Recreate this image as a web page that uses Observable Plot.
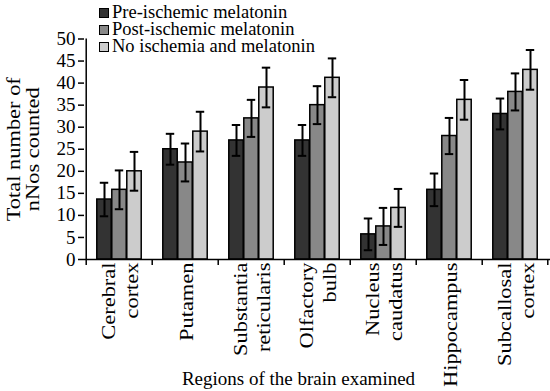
<!DOCTYPE html>
<html><head><meta charset="utf-8">
<script src="https://cdn.jsdelivr.net/npm/d3@7"></script>
<script src="https://cdn.jsdelivr.net/npm/@observablehq/plot@0.6"></script>
<style>
body{margin:0;background:#fff;font-family:"Liberation Serif","Times New Roman",serif;}
#wrap{position:relative;width:550px;height:391px;}
#legend{position:absolute;left:99px;top:4px;font-size:18.5px;line-height:17px;color:#000;}
.item{display:flex;align-items:center;white-space:nowrap;height:17px;}
.sw{width:8px;height:8px;border:1.5px solid #000;margin-right:3px;}
</style></head><body>
<div id="wrap"><div id="chart"></div><div id="legend"></div></div>
<script>
const regions = ["Cerebral\ncortex","Putamen","Substantia\nreticularis","Olfactory\nbulb","Nucleus\ncaudatus","Hippocampus","Subcallosal\ncortex"];
const series = ["Pre-ischemic melatonin","Post-ischemic melatonin","No ischemia and melatonin"];
const preMean  = [13.6, 25.0, 27.0, 27.0, 5.7, 15.8, 33.0];
const preErr   = [3.8, 3.5, 3.5, 3.5, 3.6, 3.7, 3.5];
const postMean = [15.8, 22.0, 32.0, 35.0, 7.5, 28.0, 38.0];
const postErr  = [4.4, 4.3, 4.2, 4.3, 4.2, 4.1, 4.2];
const noMean   = [20.0, 29.0, 39.0, 41.2, 11.7, 36.2, 43.0];
const noErr    = [4.4, 4.5, 4.5, 4.4, 4.3, 4.5, 4.5];
const colors = ["#333333", "#888888", "#cccccc"];
const yTicks = [0, 5, 10, 15, 20, 25, 30, 35, 40, 45, 50];
const yTitle = "Total number of\nnNos counted";
const xTitle = "Regions of the brain examined";

const means = [preMean, postMean, noMean];
const errs = [preErr, postErr, noErr];
const rows = series.map((s, k) => regions.map((r, i) => ({region: r, series: s, value: means[k][i], lo: means[k][i] - errs[k][i], hi: means[k][i] + errs[k][i]})));

const width = 550, height = 391;
const marginLeft = 84, marginRight = 0, marginTop = 38.5, marginBottom = 132;
const step = (width - marginLeft - marginRight) / regions.length;
const barW = 15, capW = 9;
const font = "'Liberation Serif', 'Times New Roman', serif";

const marks = [];
rows.forEach((rs, k) => {
  const dx = (k - 1) * barW;
  marks.push(Plot.barY(rs, {x: "region", y: "value", dx, insetLeft: (step - barW) / 2, insetRight: (step - barW) / 2, fill: colors[k], stroke: "#000", strokeWidth: 1.5}));
});
rows.forEach((rs, k) => {
  const dx = (k - 1) * barW;
  marks.push(Plot.ruleX(rs, {x: "region", y1: "lo", y2: "hi", dx, stroke: "#000", strokeWidth: 2}));
  marks.push(Plot.tickY(rs, {x: "region", y: "hi", dx, insetLeft: (step - capW) / 2, insetRight: (step - capW) / 2, stroke: "#000", strokeWidth: 2}));
  marks.push(Plot.tickY(rs, {x: "region", y: "lo", dx, insetLeft: (step - capW) / 2, insetRight: (step - capW) / 2, stroke: "#000", strokeWidth: 2}));
});
marks.push(Plot.ruleY([0], {stroke: "#000", strokeWidth: 1.5}));
marks.push(Plot.ruleX([regions[0]], {x: d => d, dx: -step / 2, y1: 0, y2: 50, stroke: "#000", strokeWidth: 1.5}));
marks.push(Plot.ruleX(regions, {x: d => d, dx: -step / 2, y1: 0, y2: 0, insetBottom: -6, stroke: "#000", strokeWidth: 1.5}));
marks.push(Plot.ruleX([regions[regions.length - 1]], {x: d => d, dx: step / 2 - 1, y1: 0, y2: 0, insetBottom: -6, stroke: "#000", strokeWidth: 1.5}));
marks.push(Plot.axisY(yTicks, {tickSize: 6, tickPadding: 3, fontSize: 19, fontFamily: font, stroke: "#000", strokeWidth: 1.5, fill: "#000", label: null}));
marks.push(Plot.text(regions, {x: d => d, text: d => d, frameAnchor: "bottom", rotate: -90, textAnchor: "end", lineAnchor: "middle", lineHeight: 1.21, dy: 3, fontSize: 19, fontFamily: font, fill: "#000"}));
marks.push(Plot.text([yTitle], {frameAnchor: "left", text: d => d, dx: -61, rotate: -90, textAnchor: "middle", lineAnchor: "middle", lineHeight: 1.0, fontSize: 19, fontFamily: font, fill: "#000"}));
marks.push(Plot.text([xTitle], {frameAnchor: "bottom", text: d => d, dx: -19, dy: 119, textAnchor: "middle", lineAnchor: "middle", fontSize: 19, fontFamily: font, fill: "#000"}));

const chart = Plot.plot({
  width, height, marginLeft, marginRight, marginTop, marginBottom,
  style: {fontFamily: font, fontSize: "19px", color: "#000", background: "#fff", overflow: "visible"},
  x: {domain: regions, padding: 0, axis: null},
  y: {domain: [0, 50], axis: null},
  marks
});
document.getElementById("chart").appendChild(chart);

// the reference's rotated texts are drawn taller than wide: stretch them along their length
chart.querySelectorAll("text").forEach(t => {
  const tr = t.getAttribute("transform") || "";
  if (!tr.includes("rotate(-90)")) return;
  const parts = t.querySelectorAll("tspan");
  const els = parts.length ? Array.from(parts) : [t];
  els.forEach(el => {
    const len = el.getComputedTextLength();
    if (len > 0) {
      el.setAttribute("textLength", (len * 1.18).toFixed(1));
      el.setAttribute("lengthAdjust", "spacingAndGlyphs");
    }
  });
});

const leg = document.getElementById("legend");
series.forEach((s, k) => {
  const it = document.createElement("div");
  it.className = "item";
  const sw = document.createElement("span");
  sw.className = "sw";
  sw.style.background = colors[k];
  const t = document.createElement("span");
  t.textContent = s;
  it.appendChild(sw); it.appendChild(t);
  leg.appendChild(it);
});
</script>
</body></html>
